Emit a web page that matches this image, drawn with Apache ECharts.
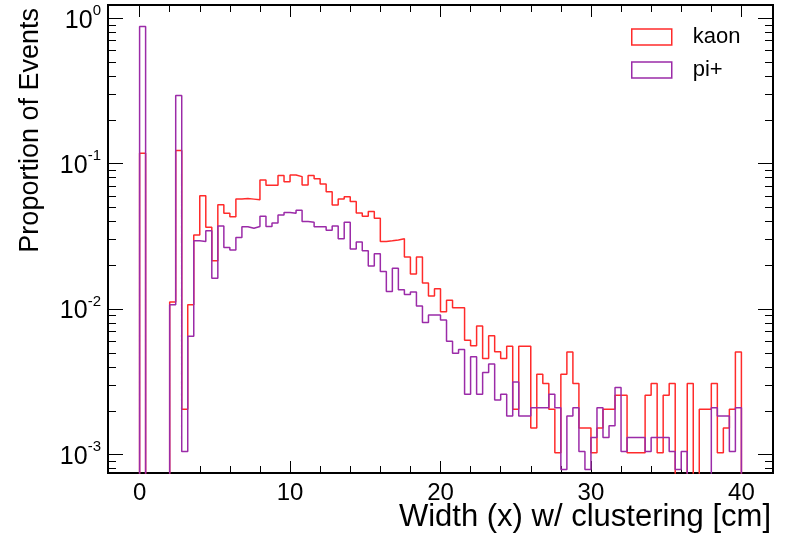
<!DOCTYPE html>
<html><head><meta charset="utf-8">
<script src="https://cdn.jsdelivr.net/npm/echarts@6/dist/echarts.min.js"></script>
<style>html,body{margin:0;padding:0;background:#fff}#c{width:786px;height:533px}</style>
</head><body><div id="c"></div>
<script>
// Histogram: 100 bins of width 0.4 from 0 to 40
const binStart = 0;
const binWidth = 0.4;
const seriesNames = ['kaon', 'pi+'];
const kaon = [
  0.118, 0, 0, 0, 0, 0.0112, 0.123, 0.00205, 0.0107, 0.0323,
  0.0602, 0.0365, 0.0215, 0.0522, 0.0456, 0.0432, 0.0571, 0.0575, 0.057, 0.0565,
  0.077, 0.071, 0.071, 0.083, 0.075, 0.0836, 0.0814, 0.0713, 0.0827, 0.0788,
  0.0723, 0.0641, 0.052, 0.0571, 0.0593, 0.0548, 0.0458, 0.0434, 0.0468, 0.0421,
  0.0292, 0.0295, 0.0299, 0.0304, 0.0228, 0.0174, 0.0228, 0.0151, 0.0123, 0.0138,
  0.0096, 0.0115, 0.0102, 0.0102, 0.0061, 0.0056, 0.00765, 0.00458, 0.00656, 0.0051,
  0.00458, 0.00556, 0.00205, 0.00556, 0.00556, 0.00152, 0.00357, 0.00308, 0.00205, 0.00103,
  0.00357, 0.00508, 0.00308, 0.00152, 0.00152, 0.00103, 0.00152, 0.00205, 0.00205, 0.00256,
  0.00256, 0.00103, 0.00103, 0.00103, 0.00256, 0.00308, 0.00103, 0.00256, 0.00308, 0,
  0, 0.00308, 0, 0.00205, 0.00205, 0.00308, 0.00103, 0.00152, 0.00205, 0.00508
];
const pion = [
  0.877, 0, 0, 0, 0, 0.0107, 0.294, 0.00105, 0.0065, 0.0295,
  0.0292, 0.0345, 0.0163, 0.0373, 0.0265, 0.0255, 0.031, 0.0368, 0.036, 0.037,
  0.0435, 0.037, 0.039, 0.0443, 0.0462, 0.0456, 0.0478, 0.040, 0.0396, 0.0368,
  0.0368, 0.0348, 0.0373, 0.0305, 0.0396, 0.0259, 0.0289, 0.0252, 0.0198, 0.024,
  0.0181, 0.0132, 0.0191, 0.0136, 0.0126, 0.0131, 0.0105, 0.0081, 0.0091, 0.0091,
  0.0084, 0.0060, 0.00497, 0.00528, 0.0026, 0.0047, 0.0026, 0.00366, 0.0042, 0.00237,
  0.0026, 0.00184, 0.00315, 0.00184, 0.00184, 0.0021, 0.0021, 0.0021, 0.0026, 0.0021,
  0.00079, 0.00184, 0.0021, 0.00105, 0.00079, 0.00131, 0.0021, 0.00131, 0.00158, 0.00289,
  0.00105, 0.00131, 0.00131, 0.00131, 0.00105, 0.00131, 0.00131, 0.00131, 0.00105, 0.00079,
  0.00105, 0, 0, 0, 0, 0.0021, 0.00184, 0.00184, 0.00105, 0.0021
];
const xTickLabels = [0, 10, 20, 30, 40];
const xMinorTicks = [2, 4, 6, 8, 12, 14, 16, 18, 22, 24, 26, 28, 32, 34, 36, 38];
const yMajorTicks = [0.001, 0.01, 0.1, 1];
const yMinorTicks = [0.0008, 0.0009,
  0.002, 0.003, 0.004, 0.005, 0.006, 0.007, 0.008, 0.009,
  0.02, 0.03, 0.04, 0.05, 0.06, 0.07, 0.08, 0.09,
  0.2, 0.3, 0.4, 0.5, 0.6, 0.7, 0.8, 0.9];
const xTitle = 'Width (x) w/ clustering [cm]';
const yTitle = 'Proportion of Events';

const RED = '#ff2b2b';
const PURPLE = '#9b2ba8';
const FLOOR = 1e-4; // empty bins drop below the axis
const FONT = 'Liberation Sans';
const X_MIN = -2.1, X_MAX = 42.1, Y_MIN = 7.47e-4, Y_MAX = 1.231;

function histPoints(vals) {
  const pts = [[binStart, FLOOR]];
  vals.forEach((v, i) => pts.push([binStart + i * binWidth, v > 0 ? v : FLOOR]));
  pts.push([binStart + vals.length * binWidth, FLOOR]);
  return pts;
}

function xAx(pos, ticks, len, labels) {
  return {
    type: 'value', position: pos, min: X_MIN, max: X_MAX,
    axisLine: { show: false, onZero: false }, splitLine: { show: false },
    axisTick: { show: true, inside: true, length: len, customValues: ticks,
      lineStyle: { color: '#000', width: 1 } },
    axisLabel: labels ? { show: true, customValues: ticks, margin: 8,
      color: '#000', fontFamily: FONT, fontSize: 24 } : { show: false }
  };
}
function yAx(pos, ticks, len, labels) {
  return {
    type: 'log', logBase: 10, position: pos, min: Y_MIN, max: Y_MAX,
    axisLine: { show: false, onZero: false }, splitLine: { show: false }, minorTick: { show: false },
    axisTick: { show: true, inside: true, length: len, customValues: ticks,
      lineStyle: { color: '#000', width: 1 } },
    axisLabel: labels ? {
      show: true, customValues: ticks, margin: 7,
      formatter: v => '{b|10}{s|' + Math.round(Math.log10(v)) + '}',
      rich: {
        b: { fontFamily: FONT, fontSize: 25, color: '#000', lineHeight: 30, verticalAlign: 'bottom' },
        s: { fontFamily: FONT, fontSize: 15, color: '#000', lineHeight: 30, verticalAlign: 'top' }
      }
    } : { show: false }
  };
}

const chart = echarts.init(document.getElementById('c'), null, { renderer: 'canvas' });
chart.setOption({
  animation: false,
  backgroundColor: '#fff',
  grid: { left: 108, right: 13, top: 5, bottom: 60, show: true,
    borderColor: '#000', borderWidth: 2, backgroundColor: 'transparent' },
  xAxis: [
    xAx('bottom', xTickLabels, 12, true),
    xAx('bottom', xMinorTicks, 7, false),
    xAx('top', xTickLabels, 12, false),
    xAx('top', xMinorTicks, 7, false)
  ],
  yAxis: [
    yAx('left', yMajorTicks, 15, true),
    yAx('left', yMinorTicks, 8, false),
    yAx('right', yMajorTicks, 15, false),
    yAx('right', yMinorTicks, 8, false)
  ],
  legend: {
    orient: 'vertical', left: 631, top: 26, padding: 0, itemWidth: 40, itemHeight: 16, itemGap: 11,
    icon: 'rect',
    textStyle: { fontFamily: FONT, fontSize: 22, color: '#000', padding: [0, 0, 0, 16] },
    data: [
      { name: seriesNames[0], itemStyle: { color: '#fff', borderColor: RED, borderWidth: 1.5 } },
      { name: seriesNames[1], itemStyle: { color: '#fff', borderColor: PURPLE, borderWidth: 1.5 } }
    ]
  },
  series: [
    { name: seriesNames[0], type: 'line', step: 'end', data: histPoints(kaon),
      xAxisIndex: 0, yAxisIndex: 0, showSymbol: false, clip: true,
      lineStyle: { color: RED, width: 1.5 }, itemStyle: { color: RED } },
    { name: seriesNames[1], type: 'line', step: 'end', data: histPoints(pion),
      xAxisIndex: 0, yAxisIndex: 0, showSymbol: false, clip: true,
      lineStyle: { color: PURPLE, width: 1.5 }, itemStyle: { color: PURPLE } }
  ],
  graphic: [
    { type: 'text', right: 15, top: 502,
      style: { text: xTitle, font: '31px "' + FONT + '"', fill: '#000' } },
    { type: 'text', x: 17, y: 8, rotation: Math.PI / 2,
      style: { text: yTitle, font: '27px "' + FONT + '"', fill: '#000',
        align: 'right', verticalAlign: 'top' } }
  ]
});
</script>
</body></html>
